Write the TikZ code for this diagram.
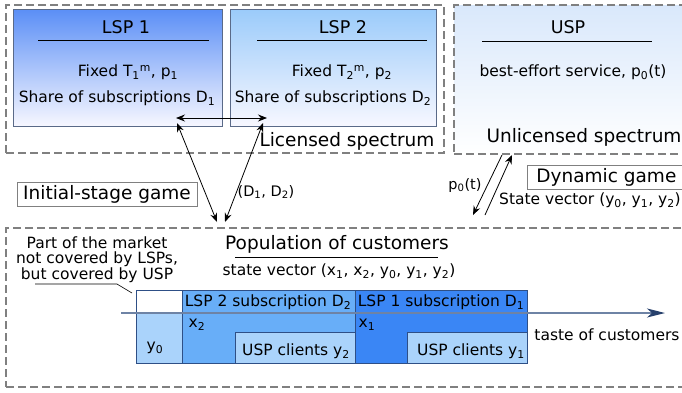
\documentclass[tikz,border=0pt]{standalone}
\usepackage{fontspec}
\setmainfont{DejaVu Sans}
\usetikzlibrary{arrows.meta}
\definecolor{lspone}{HTML}{5B8FF6}
\definecolor{lsptwo}{HTML}{9BCBFA}
\definecolor{uspbg}{HTML}{D9E8FB}
\definecolor{boxline}{HTML}{5A6A88}
\definecolor{barone}{HTML}{3A86F5}
\definecolor{bartwo}{HTML}{68AEF8}
\definecolor{barusp}{HTML}{AAD3FB}
\definecolor{barline}{HTML}{2E4F86}
\definecolor{axisline}{HTML}{6E83A5}
\definecolor{axishead}{HTML}{26406C}
\newcommand{\lsz}{\fontsize{18.5}{22}\selectfont}
\newcommand{\nsz}{\fontsize{15.5}{15.5}\selectfont}
\newcommand{\ssz}{\fontsize{14.5}{16}\selectfont}

\begin{document}
\begin{tikzpicture}
                [x=1pt, y=-1pt,
                every node/.style={inner sep=0pt, font=\nsz},
                every text node part/.style={align=center},
                dsty/.style={draw=black!50, line width=2pt, dash pattern=on 8pt off 4pt},
                lsty/.style={draw=boxline, line width=0.8pt, anchor=north west, bottom color=white!97!blue},
                bsty/.style={draw=barline, line width=1pt, anchor=north west},
                gsty/.style={draw=black!50, line width=0.8pt, minimum height=24pt, font=\lsz},
                asty/.style={{Stealth[length=9pt, width=7pt, inset=3pt]}-{Stealth[length=9pt, width=7pt, inset=3pt]}, line width=0.8pt},
                osty/.style={-{Stealth[length=9pt, width=7pt, inset=3pt]}, line width=0.8pt}]
                \useasboundingbox (0,0) rectangle (682,392);
                % licensed spectrum
                \node[dsty, anchor=north west, minimum width=438pt, minimum height=148pt] (lic) at (5,4) {};
                \node[lsty, top color=lspone, minimum width=209pt, minimum height=117pt] (lsp1) at (13,9) {};
                \node[lsty, top color=lsptwo, minimum width=206pt, minimum height=117pt] (lsp2) at (230,9) {};
                \node[font=\fontsize{17.5}{20}\selectfont] (t1) at (126,27) {LSP 1};
                \node[font=\fontsize{17.5}{20}\selectfont] (t2) at (343,27) {LSP 2};
                \draw[line width=0.8pt] (38,40) -- (209,40);
                \draw[line width=0.8pt] (257,40) -- (427,40);
                \node (f1) at (128,72) {Fixed T\textsubscript{1}\textsuperscript{m}, p\textsubscript{1}};
                \node (s1) at (117,98) {Share of subscriptions D\textsubscript{1}};
                \node (f2) at (342,72) {Fixed T\textsubscript{2}\textsuperscript{m}, p\textsubscript{2}};
                \node (s2) at (333,98) {Share of subscriptions D\textsubscript{2}};
                \node[font=\lsz] (ls) at (347,141) {Licensed spectrum};
                % unlicensed spectrum
                \node[dsty, anchor=north west, top color=uspbg, bottom color=white, minimum width=240pt, minimum height=149pt] (unl) at (453,4) {};
                \node[font=\fontsize{17.5}{20}\selectfont] (t0) at (568,27) {USP};
                \draw[line width=0.8pt] (482,41) -- (652,41);
                \node (be) at (573,72) {best-effort service, p\textsubscript{0}(t)};
                \node[font=\lsz] (us) at (584,137) {Unlicensed spectrum};
                % games
                \node[gsty, minimum width=180pt] (isg) at (107,194) {Initial-stage game};
                \node[gsty, anchor=west, minimum width=158pt] (dg) at (527,177) {Dynamic game};
                \node[font=\ssz] (dd) at (266,192) {(D\textsubscript{1}, D\textsubscript{2})};
                \node[font=\ssz] (pt) at (465,185) {p\textsubscript{0}(t)};
                \node (sv) at (590,200) {State vector (y\textsubscript{0}, y\textsubscript{1}, y\textsubscript{2})};
                % population
                \node[dsty, anchor=north west, minimum width=690pt, minimum height=159pt] (pop) at (5,227) {};
                \node[font=\lsz] (pc) at (337,244) {Population of customers};
                \draw[line width=0.8pt] (235,257) -- (438,257);
                \node (sx) at (339,271) {state vector (x\textsubscript{1}, x\textsubscript{2}, y\textsubscript{0}, y\textsubscript{1}, y\textsubscript{2})};
                \node (pm) at (97,259.5) {Part of the market\\not covered by LSPs,\\but covered by USP};
                % bars
                \node[bsty, fill=white, minimum width=46pt, minimum height=23pt] (wb) at (136,290) {};
                \node[bsty, fill=barusp, minimum width=46pt, minimum height=50pt] (y0b) at (136,313) {};
                \node[bsty, fill=bartwo, minimum width=173pt, minimum height=73pt] (d2b) at (182,290) {};
                \node[bsty, fill=barusp, minimum width=120pt, minimum height=31pt] (u2b) at (235,332) {};
                \node[bsty, fill=barone, minimum width=172pt, minimum height=73pt] (d1b) at (355,290) {};
                \node[bsty, fill=barusp, minimum width=120pt, minimum height=31pt] (u1b) at (407,332) {};
                \node (d2t) at (268,302) {LSP 2 subscription D\textsubscript{2}};
                \node (d1t) at (441,302) {LSP 1 subscription D\textsubscript{1}};
                \node (x2) at (197,325) {x\textsubscript{2}};
                \node (x1) at (367,325) {x\textsubscript{1}};
                \node (y0) at (155,348) {y\textsubscript{0}};
                \node (u2t) at (296,351) {USP clients y\textsubscript{2}};
                \node (u1t) at (471,351) {USP clients y\textsubscript{1}};
                \coordinate (ax0) at (121,313);
                \coordinate (ax1) at (665,313);
                \draw[line width=1.8pt, draw=axisline, -{Stealth[length=18pt, width=9pt, inset=5pt, color=axishead]}] (ax0) -- (ax1);
                \node (tc) at (607,335) {taste of customers};
                \coordinate (la) at (35,284);
                \coordinate (lb) at (117,284);
                \coordinate (lc) at (132,293);
                \draw[line width=0.6pt] (la) -- (lb) -- (lc);
                % arrows
                \coordinate (da) at (176,118);
                \coordinate (db) at (267,118);
                \coordinate (pa) at (217,222);
                \coordinate (pb) at (225,222);
                \draw[asty] (da) -- (db);
                \draw[asty] (177,123) -- (pa);
                \draw[asty] (263,123) -- (pb);
                \coordinate (ua) at (502,155);
                \coordinate (ub) at (473,215);
                \coordinate (uc) at (485,215);
                \coordinate (ud) at (512,155);
                \draw[osty] (ua) -- (ub);
                \draw[osty] (uc) -- (ud);
            \end{tikzpicture}
\end{document}
